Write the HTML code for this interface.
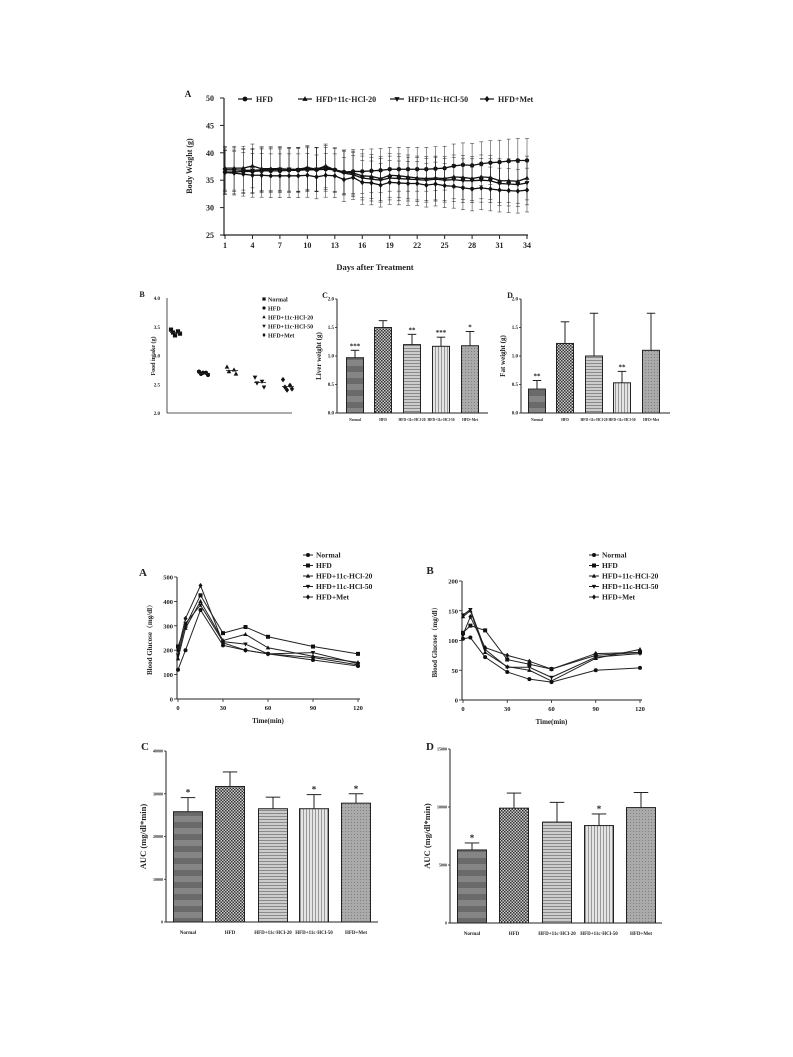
<!DOCTYPE html>
<html><head><meta charset="utf-8"><style>
body{margin:0;background:#fff}
svg{display:block;font-family:"Liberation Serif",serif;font-weight:bold}
</style></head><body>
<svg id="fig" width="793" height="1057" viewBox="0 0 793 1057" xmlns="http://www.w3.org/2000/svg">
<defs>
<pattern id="pNormal" width="4" height="12" patternUnits="userSpaceOnUse"><rect width="4" height="12" fill="#858585"/><rect y="6" width="4" height="6" fill="#6a6a6a"/></pattern>
<pattern id="pHFD" width="3" height="3" patternUnits="userSpaceOnUse"><rect width="3" height="3" fill="#ccc"/><rect width="1.5" height="1.5" fill="#333"/><rect x="1.5" y="1.5" width="1.5" height="1.5" fill="#333"/></pattern>
<pattern id="p20" width="4" height="3" patternUnits="userSpaceOnUse"><rect width="4" height="3" fill="#ccc"/><rect width="4" height="1" fill="#8a8a8a"/></pattern>
<pattern id="p50" width="3" height="4" patternUnits="userSpaceOnUse"><rect width="3" height="4" fill="#e4e4e4"/><rect width="1" height="4" fill="#999"/></pattern>
<pattern id="pMet" width="3" height="3" patternUnits="userSpaceOnUse"><rect width="3" height="3" fill="#aaa"/><rect width="1" height="1" fill="#808080"/></pattern>
</defs>
</svg>
<script>
const NS="http://www.w3.org/2000/svg";
const svg=document.getElementById('fig');
function el(t,a,p){const e=document.createElementNS(NS,t);for(const k in a)e.setAttribute(k,a[k]);(p||svg).appendChild(e);return e;}
function txt(x,y,s,size,anchor,rot,p){const e=el('text',{x:x,y:y,'font-size':size,'text-anchor':anchor||'middle',fill:'#222'},p);if(rot)e.setAttribute('transform','rotate(-90 '+x+' '+y+')');e.textContent=s;return e;}
function line(x1,y1,x2,y2,w,p){return el('line',{x1:x1,y1:y1,x2:x2,y2:y2,stroke:'#222','stroke-width':w||1},p);}
function marker(kind,x,y,r,p){
  if(kind==='circle')return el('circle',{cx:x,cy:y,r:r,fill:'#111'},p);
  if(kind==='square')return el('rect',{x:x-r,y:y-r,width:2*r,height:2*r,fill:'#111'},p);
  if(kind==='up')return el('polygon',{points:`${x},${y-r*1.2} ${x-r*1.1},${y+r*0.8} ${x+r*1.1},${y+r*0.8}`,fill:'#111'},p);
  if(kind==='down')return el('polygon',{points:`${x},${y+r*1.2} ${x-r*1.1},${y-r*0.8} ${x+r*1.1},${y-r*0.8}`,fill:'#111'},p);
  return el('polygon',{points:`${x},${y-r*1.3} ${x+r},${y} ${x},${y+r*1.3} ${x-r},${y}`,fill:'#111'},p);
}

// ===== Panel top A: body weight =====
const bwDays=[];for(let d=1;d<=34;d++)bwDays.push(d);
const bwHFD=[36.5,36.5,36.6,36.6,36.7,36.7,36.7,36.8,36.8,36.9,36.9,37.0,36.9,36.5,36.6,36.6,36.7,36.8,37.0,37.0,37.0,37.0,37.0,37.1,37.2,37.6,37.8,37.7,38.0,38.2,38.3,38.5,38.6,38.6];
const bw20=[37.2,37.2,37.2,37.6,37.1,37.1,37.1,37.0,37.0,37.3,37.0,37.6,36.9,36.5,36.3,35.8,35.7,35.3,35.9,35.8,35.6,35.4,35.3,35.4,35.3,35.6,35.5,35.3,35.6,35.5,34.9,34.9,34.8,35.4];
const bw50=[36.9,36.9,36.8,36.8,36.9,36.9,37.0,37.0,36.9,37.1,37.0,37.3,36.8,36.3,36.0,35.4,35.2,35.0,35.4,35.3,35.2,35.1,35.0,35.2,35.0,35.1,34.9,34.9,35.0,34.9,34.4,34.3,34.2,34.5];
const bwMet=[36.4,36.3,36.1,35.9,35.9,35.8,35.8,35.8,35.8,35.9,35.6,35.9,35.8,35.1,35.5,34.6,34.5,34.1,34.6,34.5,34.4,34.4,34.1,34.3,34.0,33.9,33.6,33.4,33.6,33.4,33.2,33.1,33.0,33.2];
const bwErr=4;
const bwTicksY=[25,30,35,40,45,50];
const bwTicksX=[1,4,7,10,13,16,19,22,25,28,31,34];
(function(){
  const g=el('g',{});
  
  
  const X=d=>225+(d-1)*(527-225)/33, Y=v=>235-(v-25)*(235-98)/25;
  txt(188,97,'A',9,'middle',0,g);
  line(224,98,224,236,1.2,g);line(224,235,528,235,1.2,g);
  bwTicksY.forEach(t=>{line(220,Y(t),224,Y(t),1,g);txt(214,Y(t)+3,String(t),8,'end',0,g);});
  bwTicksX.forEach(t=>{line(X(t),235,X(t),239,1,g);txt(X(t),248,String(t),8,'middle',0,g);});
  txt(192,166,'Body Weight (g)',8,'middle',true,g);
  txt(375,270,'Days after Treatment',8.5,'middle',0,g);
  const series=[[bwHFD,'circle'],[bw20,'up'],[bw50,'down'],[bwMet,'diamond']];
  series.forEach(([vals,m],si)=>{
    const sg=el('g',{},g);
    
    
    vals.forEach((v,i)=>{const x=X(bwDays[i]);line(x,Y(v-bwErr),x,Y(v+bwErr),0.5,sg);line(x-2,Y(v+bwErr),x+2,Y(v+bwErr),0.5,sg);line(x-2,Y(v-bwErr),x+2,Y(v-bwErr),0.5,sg);});
    el('polyline',{points:vals.map((v,i)=>X(bwDays[i])+','+Y(v)).join(' '),fill:'none',stroke:'#111','stroke-width':1.3},sg);
    vals.forEach((v,i)=>marker(m,X(bwDays[i]),Y(v),2.2,sg));
  });
  const leg=[['HFD','circle',238],['HFD+11c·HCl-20','up',298],['HFD+11c·HCl-50','down',390],['HFD+Met','diamond',480]];
  leg.forEach(([n,m,x])=>{const lg=el('g',{},g);line(x,99,x+14,99,1.3,lg);marker(m,x+7,99,2.4,lg);txt(x+18,102,n,8,'start',0,lg);});
})();

// ===== Panel B: food intake scatter =====
const fiGroups=['Normal','HFD','HFD+11c·HCl-20','HFD+11c·HCl-50','HFD+Met'];
const fiPoints=[[3.45,3.42,3.40,3.38,3.35],[2.72,2.70,2.68,2.66,2.70],[2.80,2.75,2.72,2.68],[2.62,2.55,2.52,2.45],[2.58,2.48,2.45,2.42,2.40]];
const fiMean=[3.40,2.69,2.74,2.53,2.46];
const fiTicks=[2.0,2.5,3.0,3.5,4.0];
(function(){
  const g=el('g',{});
  
  
  const Y=v=>413-(v-2)*(413-298)/2; const X=i=>176+i*28;
  txt(142,297,'B',8,'middle',0,g);
  line(167,298,167,413,0.8,g);line(167,413,292,413,0.8,g);
  fiTicks.forEach(t=>txt(160,Y(t)+2,t.toFixed(1),5,'end',0,g));
  txt(155,356,'Food intake (g)',6,'middle',true,g);
  const mk=['square','circle','up','down','diamond'];
  fiPoints.forEach((pts,i)=>{pts.forEach((v,j)=>marker(mk[i],X(i)+(j%2?3:-3)+(j-2),Y(v),2.1,g));line(X(i)-6,Y(fiMean[i]),X(i)+6,Y(fiMean[i]),0.8,g);});
  fiGroups.forEach((n,i)=>{marker(mk[i],264,299+i*9,1.6,g);txt(268,301.5+i*9,n,6,'start',0,g);});
})();

// ===== Bar chart helper =====
function barChart(name,o){
  const g=el('g',{});
  
  
  const Y=v=>o.y0-(v-0)*(o.y0-o.yTop)/o.max;
  txt(o.lx,o.ly,o.letter,o.lsize,'middle',0,g);
  line(o.ax,o.yTop,o.ax,o.y0,1,g);line(o.ax,o.y0,o.axEnd,o.y0,1,g);
  o.ticks.forEach(t=>{line(o.ax-2,Y(t),o.ax,Y(t),0.8,g);txt(o.ax-3,Y(t)+1.5,o.fmt(t),o.tsize,'end',0,g);});
  txt(o.ax-o.ytOff,(o.yTop+o.y0)/2,o.ytitle,o.ytsize,'middle',true,g);
  const fills=['url(#pNormal)','url(#pHFD)','url(#p20)','url(#p50)','url(#pMet)'];
  o.vals.forEach((v,i)=>{
    const cx=o.centers[i];
    const b=el('rect',{x:cx-o.bw/2,y:Y(v),width:o.bw,height:o.y0-Y(v),fill:fills[i],stroke:'#222','stroke-width':1},g);
    
    
    const e=Y(v+o.errs[i]);
    line(cx,Y(v),cx,e,1,g);line(cx-o.bw*0.25,e,cx+o.bw*0.25,e,1,g);
    if(o.stars[i])txt(cx,e-2,o.stars[i],o.ssize,'middle',0,g);
    txt(cx,o.y0+o.xlOff,o.cats[i],o.xsize,'middle',0,g);
  });
}
const cats=['Normal','HFD','HFD+11c·HCl-20','HFD+11c·HCl-50','HFD+Met'];
const liverVals=[0.97,1.50,1.20,1.17,1.18];
const liverErr=[0.13,0.12,0.18,0.16,0.25];
const liverStars=['***','','**','***','*'];
const fatVals=[0.42,1.22,1.00,0.53,1.10];
const fatErr=[0.15,0.38,0.75,0.20,0.65];
const fatStars=['**','','','**',''];
const axisTicks2=[0,0.5,1.0,1.5,2.0];
barChart('liver-weight-chart',{letter:'C',lx:325,ly:298,lsize:8,ax:337,axEnd:488,yTop:299,y0:413,max:2,ticks:axisTicks2,fmt:t=>t.toFixed(1),tsize:5,ytitle:'Liver weight (g)',ytOff:16,ytsize:7,vals:liverVals,errs:liverErr,stars:liverStars,centers:[355,383,412,441,470],bw:17,ssize:7,cats:cats,xlOff:8,xsize:3.6});
barChart('fat-weight-chart',{letter:'D',lx:510,ly:298,lsize:8,ax:521,axEnd:670,yTop:299,y0:413,max:2,ticks:axisTicks2,fmt:t=>t.toFixed(1),tsize:5,ytitle:'Fat weight (g)',ytOff:16,ytsize:7,vals:fatVals,errs:fatErr,stars:fatStars,centers:[537,565,594,622,651],bw:17,ssize:7,cats:cats,xlOff:8,xsize:3.6});

// ===== Glucose line charts =====
const gTimes=[0,5,15,30,45,60,90,120];
const gttNormal=[120,200,365,220,200,185,160,135];
const gttHFD=[215,300,425,270,295,255,215,185];
const gtt20=[165,290,400,240,265,210,175,150];
const gtt50=[180,310,385,235,225,185,190,145];
const gttMet=[200,330,465,230,200,185,170,140];
const gttTicks=[0,100,200,300,400,500];
const ittNormal=[103,105,72,47,35,30,50,54];
const ittHFD=[113,125,117,68,60,52,75,80];
const itt20=[140,150,80,56,50,32,70,85];
const itt50=[143,152,85,55,55,38,72,78];
const ittMet=[110,140,88,75,65,52,78,80];
const ittTicks=[0,50,100,150,200];
const timeTicks=[0,30,60,90,120];
function lineChart(name,o){
  const g=el('g',{});
  
  
  const X=t=>o.x0+t*(o.x1-o.x0)/120, Y=v=>o.y0-v*(o.y0-o.yTop)/o.max;
  txt(o.lx,o.ly,o.letter,11,'middle',0,g);
  line(o.x0-1,o.yTop,o.x0-1,o.y0,1,g);line(o.x0-1,o.y0,o.x1+2,o.y0,1,g);
  o.ticks.forEach(t=>{line(o.x0-4,Y(t),o.x0-1,Y(t),0.8,g);txt(o.x0-5,Y(t)+2.5,String(t),6.5,'end',0,g);});
  timeTicks.forEach(t=>{line(X(t),o.y0,X(t),o.y0+3,0.8,g);txt(X(t),o.y0+11,String(t),6.5,'middle',0,g);});
  txt((o.x0+o.x1)/2,o.y0+24,'Time(min)',7,'middle',0,g);
  txt(o.x0-26,(o.yTop+o.y0)/2,'Blood Glucose（mg/dl）',7,'middle',true,g).setAttribute('font-family','"Liberation Serif","Noto Serif CJK SC",serif');
  const mk=['circle','square','up','down','diamond'];
  o.series.forEach((vals,si)=>{
    const sg=el('g',{},g);
    
    
    el('polyline',{points:vals.map((v,i)=>X(gTimes[i])+','+Y(v)).join(' '),fill:'none',stroke:'#222','stroke-width':1},sg);
    vals.forEach((v,i)=>marker(mk[si],X(gTimes[i]),Y(v),2,sg));
  });
  cats.forEach((n,i)=>{const lg=el('g',{},g);const yy=o.legY+i*10.5;line(o.legX,yy,o.legX+10,yy,1,lg);marker(mk[i],o.legX+5,yy,2,lg);txt(o.legX+13,yy+2.5,n.replace('·','-'),7.5,'start',0,lg);});
}
lineChart('glucose-tolerance-chart',{letter:'A',lx:143,ly:576,x0:178,x1:358,y0:699,yTop:577,max:500,ticks:gttTicks,series:[gttNormal,gttHFD,gtt20,gtt50,gttMet],legX:303,legY:555});
lineChart('insulin-tolerance-chart',{letter:'B',lx:430,ly:574,x0:463,x1:640,y0:700,yTop:581,max:200,ticks:ittTicks,series:[ittNormal,ittHFD,itt20,itt50,ittMet],legX:589,legY:555});

// ===== AUC bar charts =====
const aucGttVals=[25800,31700,26500,26500,27800];
const aucGttErr=[3300,3400,2700,3300,2200];
const aucGttStars=['*','','','*','*'];
const aucGttTicks=[0,10000,20000,30000,40000];
const aucIttVals=[6300,9900,8700,8400,9950];
const aucIttErr=[600,1300,1700,1000,1300];
const aucIttStars=['*','','','*',''];
const aucIttTicks=[0,5000,10000,15000];
barChart('gtt-auc-chart',{letter:'C',lx:145,ly:750,lsize:11,ax:166,axEnd:378,yTop:751,y0:922,max:40000,ticks:aucGttTicks,fmt:String,tsize:4,ytitle:'AUC (mg/dl*min)',ytOff:20,ytsize:8.5,vals:aucGttVals,errs:aucGttErr,stars:aucGttStars,centers:[188,230,273,314,356],bw:29,ssize:9,cats:cats,xlOff:12,xsize:5});
barChart('itt-auc-chart',{letter:'D',lx:430,ly:750,lsize:11,ax:450,axEnd:662,yTop:749,y0:923,max:15000,ticks:aucIttTicks,fmt:String,tsize:4,ytitle:'AUC (mg/dl*min)',ytOff:20,ytsize:8.5,vals:aucIttVals,errs:aucIttErr,stars:aucIttStars,centers:[472,514,557,599,641],bw:29,ssize:9,cats:cats,xlOff:12,xsize:5});
</script>
</body></html>
